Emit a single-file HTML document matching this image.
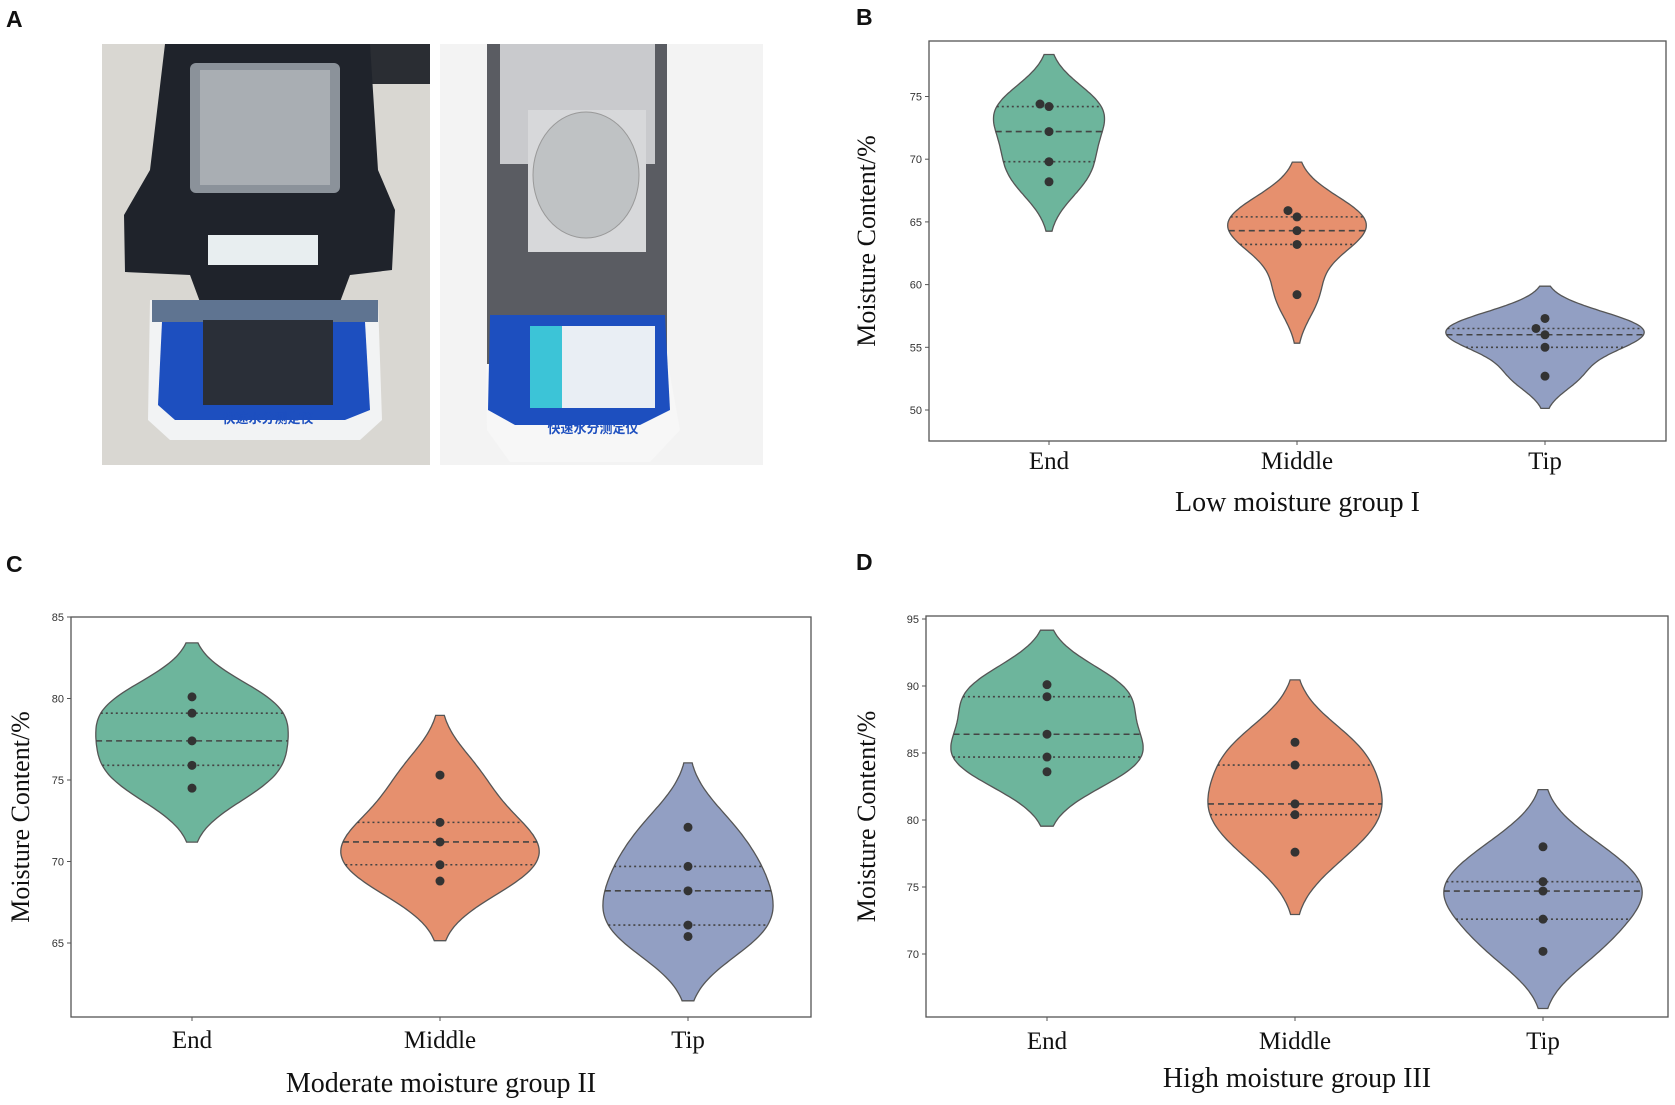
<!DOCTYPE html>
<html><head><meta charset="utf-8"><style>
html,body{margin:0;padding:0;background:#fff;}
svg{display:block;}
.lt{font-family:"Liberation Sans",sans-serif;font-weight:bold;font-size:23px;fill:#111;}
.tk{font-family:"Liberation Sans",sans-serif;font-size:11px;fill:#333;}
.cat{font-family:"Liberation Serif",serif;font-size:25px;fill:#111;}
.ttl{font-family:"Liberation Serif",serif;font-size:28px;fill:#111;}
.yl{font-family:"Liberation Serif",serif;font-size:26px;fill:#111;}
</style></head><body>
<svg id="fig" width="1675" height="1105" viewBox="0 0 1675 1105" xmlns="http://www.w3.org/2000/svg">
<text class="lt" x="6" y="27">A</text>
<text class="lt" x="856" y="25">B</text>
<text class="lt" x="6" y="572">C</text>
<text class="lt" x="856" y="570">D</text>
<g>
<rect x="102" y="44" width="328" height="421" fill="#d9d7d2"/>
<rect x="170" y="44" width="260" height="40" fill="#2a2d33"/>
<path d="M165 44 L370 44 L378 170 L395 210 L392 270 L350 275 L340 302 L200 302 L190 275 L125 272 L124 215 L150 170 Z" fill="#1f232b"/>
<rect x="190" y="63" width="150" height="130" rx="6" fill="#8b929a"/>
<rect x="200" y="70" width="130" height="115" fill="#a9aeb3"/>
<rect x="208" y="235" width="110" height="30" fill="#e8eef0"/>
<path d="M150 300 L378 300 L382 420 L360 440 L170 440 L148 420 Z" fill="#f2f3f4"/>
<rect x="152" y="300" width="226" height="22" fill="#5f7491"/>
<path d="M162 322 L365 322 L370 410 L345 420 L175 420 L158 405 Z" fill="#1d4fbf"/>
<rect x="203" y="320" width="130" height="85" fill="#2a2f38"/>
<text x="268" y="423" text-anchor="middle" font-family="'Liberation Sans','Noto Sans CJK SC',sans-serif" font-size="13" font-weight="bold" fill="#1d4fbf">快速水分测定仪</text>
</g>
<g>
<rect x="440" y="44" width="323" height="421" fill="#f3f3f3"/>
<rect x="487" y="44" width="180" height="320" fill="#5a5c62"/>
<rect x="500" y="44" width="155" height="120" fill="#c9cacd"/>
<rect x="528" y="110" width="118" height="142" fill="#d7d8da"/>
<ellipse cx="586" cy="175" rx="53" ry="63" fill="#bfc2c4" stroke="#999"/>
<path d="M486 364 L668 364 L680 430 L650 462 L510 462 L487 430 Z" fill="#f7f7f7"/>
<path d="M490 315 L665 315 L670 410 L640 425 L515 425 L488 410 Z" fill="#1d4fbf"/>
<rect x="530" y="326" width="125" height="82" fill="#e9eef4"/>
<rect x="530" y="326" width="32" height="82" fill="#3cc4d7"/>
<text x="593" y="433" text-anchor="middle" font-family="'Liberation Sans','Noto Sans CJK SC',sans-serif" font-size="13" font-weight="bold" fill="#1d4fbf">快速水分测定仪</text>
</g>
<g id="plots"></g>
</svg>
<script>
const categories = ["End","Middle","Tip"];
const bEnd = [74.4,74.2,72.2,69.8,68.2];
const bMiddle = [65.9,65.4,64.3,63.2,59.2];
const bTip = [57.3,56.5,56.0,55.0,52.7];
const bTicks = [50,55,60,65,70,75];
const cEnd = [80.1,79.1,77.4,75.9,74.5];
const cMiddle = [75.3,72.4,71.2,69.8,68.8];
const cTip = [72.1,69.7,68.2,66.1,65.4];
const cTicks = [65,70,75,80,85];
const dEnd = [90.1,89.2,86.4,84.7,83.6];
const dMiddle = [85.8,84.1,81.2,80.4,77.6];
const dTip = [78.0,75.4,74.7,72.6,70.2];
const dTicks = [70,75,80,85,90,95];
const colors = ["#6db59c","#e6906e","#929fc3"];

const NS="http://www.w3.org/2000/svg";
function mk(tag,attrs,parent){const e=document.createElementNS(NS,tag);for(const k in attrs)e.setAttribute(k,attrs[k]);parent.appendChild(e);return e;}
function pct(a,p){const s=[...a].sort((x,y)=>x-y);const i=(s.length-1)*p;const lo=Math.floor(i),hi=Math.ceil(i);return s[lo]+(s[hi]-s[lo])*(i-lo);}
function kde(a){const n=a.length,m=a.reduce((s,v)=>s+v,0)/n;const sd=Math.sqrt(a.reduce((s,v)=>s+(v-m)*(v-m),0)/(n-1));const bw=sd*Math.pow(n,-0.2);
 const lo=Math.min(...a)-2*bw,hi=Math.max(...a)+2*bw;const f=y=>a.reduce((s,v)=>s+Math.exp(-0.5*((y-v)/bw)**2),0)/(n*bw*Math.sqrt(2*Math.PI));
 const g=[];for(let i=0;i<=100;i++){const y=lo+(hi-lo)*i/100;g.push([y,f(y)]);}return {g,f,max:Math.max(...g.map(p=>p[1]))};}

function panel(cfg){
 const root=document.getElementById('plots');
 const g=mk('g',{},root);
 
 
 const {L,R,T,B,v0,y0,v1,y1,xs}=cfg;
 const Y=v=>y0+(v-v0)*(y1-y0)/(v1-v0);
 const X=i=>xs[0]+i*(xs[1]-xs[0]);
 const sp=xs[1]-xs[0];
 const ks=cfg.series.map(kde);const gmax=Math.max(...ks.map(k=>k.max));
 cfg.series.forEach((arr,i)=>{
  const k=ks[i],cx=X(i),W=d=>d/gmax*0.4*sp;
  let dR="",dL="";
  k.g.forEach((p,j)=>{dR+=(j?"L":"M")+(cx+W(p[1])).toFixed(1)+" "+Y(p[0]).toFixed(1)+" ";});
  for(let j=k.g.length-1;j>=0;j--){const p=k.g[j];dL+="L"+(cx-W(p[1])).toFixed(1)+" "+Y(p[0]).toFixed(1)+" ";}
  const vp=mk('path',{d:dR+dL+"Z",fill:colors[i],stroke:"#555","stroke-width":1.3},g);
  
  
  [0.25,0.5,0.75].forEach(q=>{const v=pct(arr,q),w=W(k.f(v));
   const ln=mk('line',{x1:cx-w,x2:cx+w,y1:Y(v),y2:Y(v),stroke:"#444","stroke-width":1.6,"stroke-dasharray":q===0.5?"6,4":"2,3"},g);
   
   });
  const placed=[],r=4.5;
  [...arr].sort((a,b)=>a-b).forEach(v=>{const y=Y(v);let dx=0;
   for(const c of [0,-1,1,-2,2]){const x=cx+c*9;if(placed.every(p=>Math.hypot(p[0]-x,p[1]-y)>=2*r)){dx=c*9;break;}}
   placed.push([cx+dx,y]);
   const pt=mk('circle',{cx:cx+dx,cy:y,r:r,fill:"#333"},g);
   
   });
 });
 const fr=mk('rect',{x:L,y:T,width:R-L,height:B-T,fill:"none",stroke:"#555","stroke-width":1.3},g);
 
 
 cfg.ticks.forEach(t=>{const y=Y(t);
  mk('line',{x1:L-4,x2:L,y1:y,y2:y,stroke:"#555"},g);
  const tx=mk('text',{x:L-7,y:y+4,"text-anchor":"end",class:"tk"},g);tx.textContent=t;
  
  });
 categories.forEach((c,i)=>{mk('line',{x1:X(i),x2:X(i),y1:B,y2:B+4,stroke:"#555"},g);
  const tx=mk('text',{x:X(i),y:cfg.catY,"text-anchor":"middle",class:"cat"},g);tx.textContent=c;
  
  });
 const tt=mk('text',{x:(L+R)/2,y:cfg.titleY,"text-anchor":"middle",class:"ttl"},g);tt.textContent=cfg.title;
 
 
 const yl=mk('text',{x:0,y:0,"text-anchor":"middle",class:"yl",transform:`translate(${cfg.ylX},${(T+B)/2}) rotate(-90)`},g);yl.textContent="Moisture Content/%";
 
 
}
panel({name:'chart-b-low-moisture',L:929,R:1666,T:41,B:441,v0:50,y0:410,v1:75,y1:96.5,xs:[1049,1297],series:[bEnd,bMiddle,bTip],ticks:bTicks,catY:469,titleY:511,title:"Low moisture group I",ylX:875});
panel({name:'chart-c-moderate-moisture',L:71,R:811,T:617,B:1017,v0:65,y0:943,v1:85,y1:617,xs:[192,440],series:[cEnd,cMiddle,cTip],ticks:cTicks,catY:1048,titleY:1092,title:"Moderate moisture group II",ylX:29});
panel({name:'chart-d-high-moisture',L:926,R:1668,T:616,B:1017,v0:70,y0:954,v1:95,y1:619,xs:[1047,1295],series:[dEnd,dMiddle,dTip],ticks:dTicks,catY:1049,titleY:1087,title:"High moisture group III",ylX:875});
</script>
</body></html>
